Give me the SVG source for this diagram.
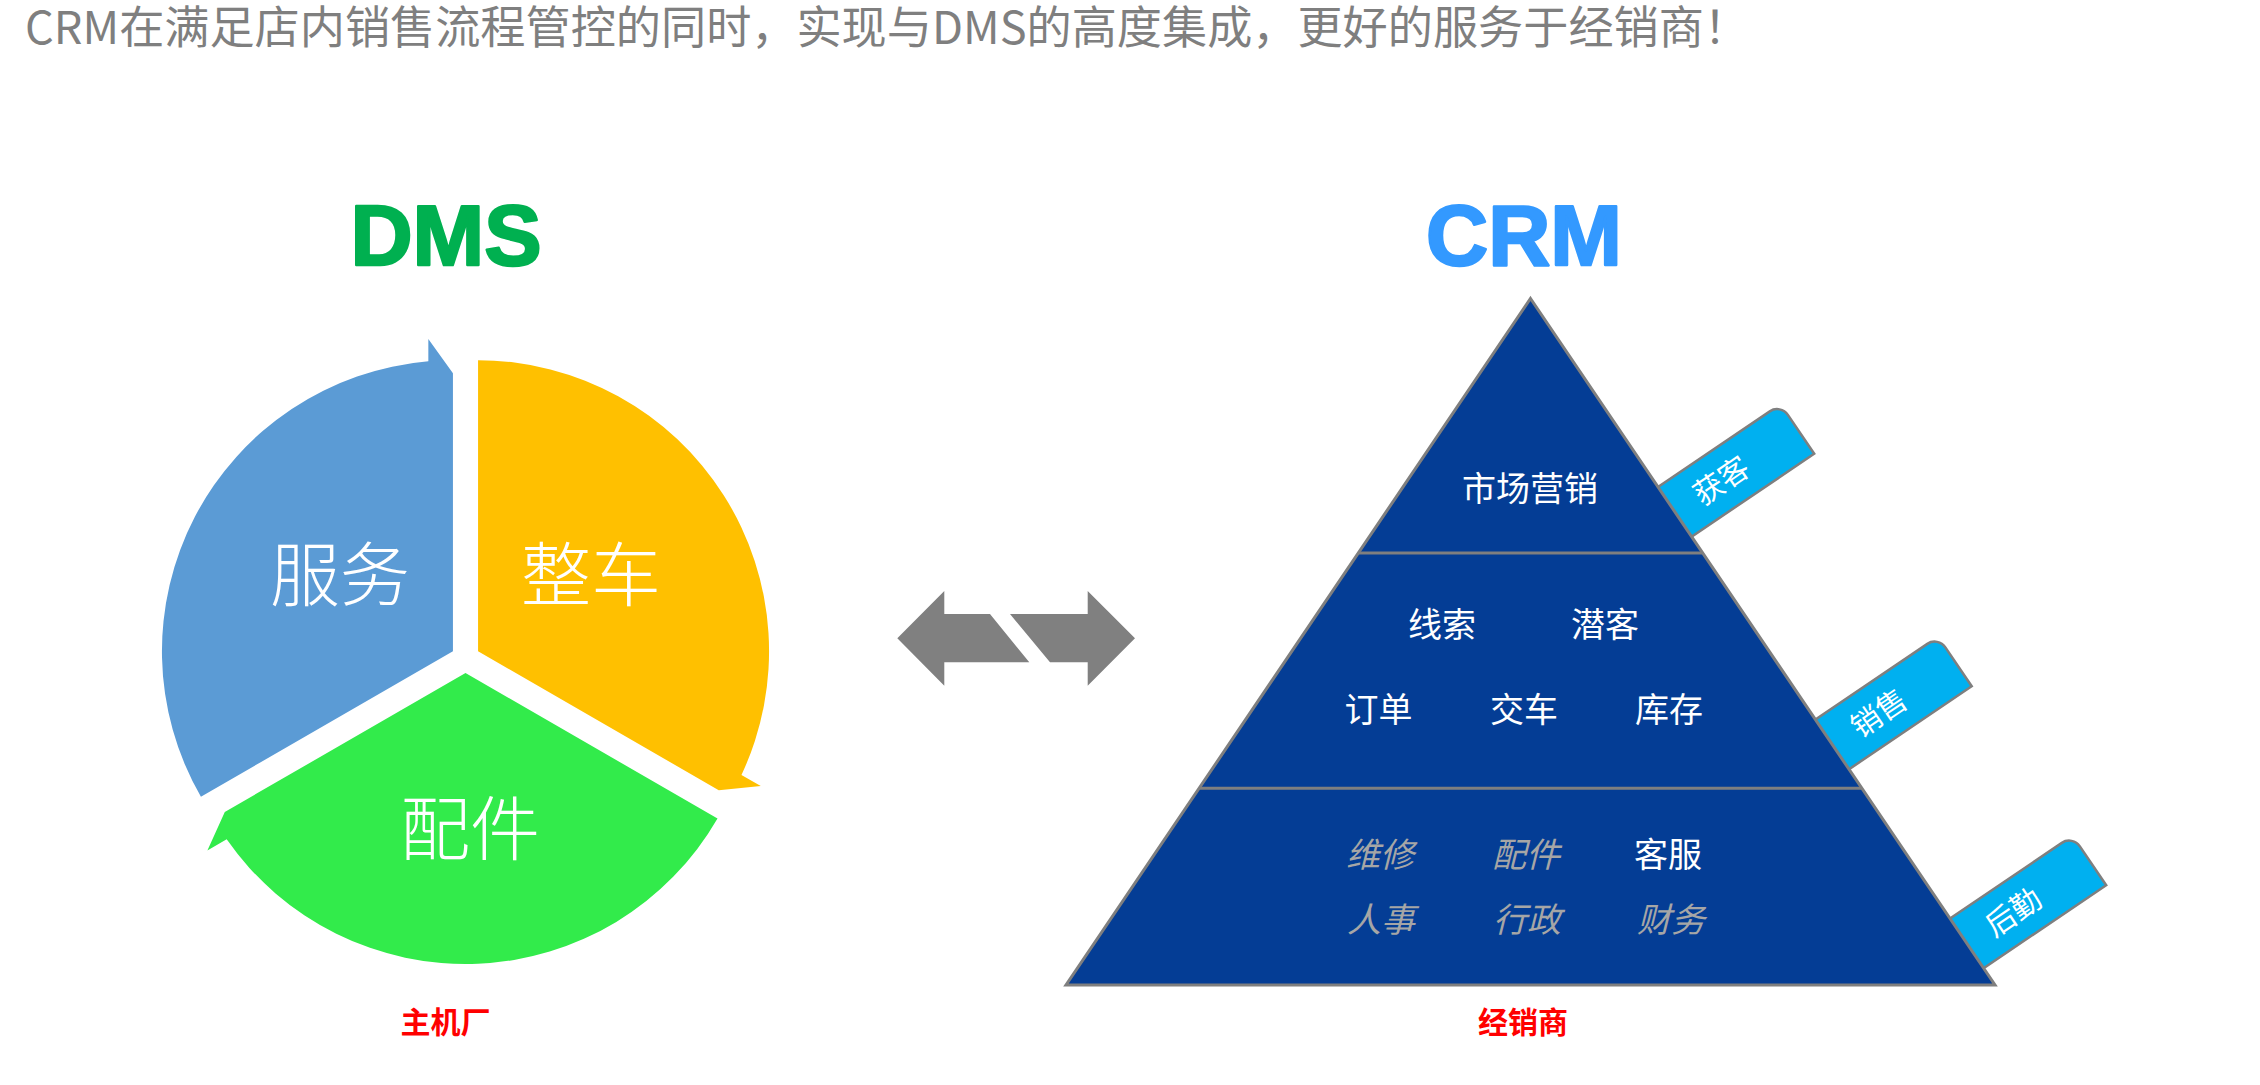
<svg xmlns="http://www.w3.org/2000/svg" width="2260" height="1085" viewBox="0 0 2260 1085">
<style>
  text { font-family: "Noto Sans CJK SC", "Noto Sans", sans-serif; }
  .title { font-size: 45px; fill: #7F7F7F; }
  .head { font-family: "Liberation Sans", Arial, sans-serif; font-weight: bold; font-size: 86px; text-anchor: middle; stroke-width: 2.5; stroke-linejoin: round; }
  .pie { font-size: 70px; fill: #FFFFFF; text-anchor: middle; font-weight: 300; }
  .tier { font-size: 34px; fill: #FFFFFF; text-anchor: middle; }
  .tier-i { font-size: 34px; fill: #A6A6A6; text-anchor: middle; font-style: italic; }
  .foot { font-size: 30px; fill: #FF0000; text-anchor: middle; font-weight: bold; }
  .tab text { font-size: 30px; fill: #FFFFFF; text-anchor: middle; }
  .sep { stroke: #7F7F7F; stroke-width: 3; }
</style>
<defs>
  <path id="segment" d="M452.94,651.25 L200.93,796.75 A291,291 0 0 1 428.34,361.29 L428.34,339 L452.94,373.3 Z"/>
  <path id="tabShape" d="M-25,0 H135 A13,13 0 0 1 148,13 V60 H-25 Z"/>
</defs>

<g id="title">
  <text class="title" x="25" y="44" textLength="1724" lengthAdjust="spacingAndGlyphs">CRM在满足店内销售流程管控的同时，实现与DMS的高度集成，更好的服务于经销商！</text>
</g>

<g id="dms-heading">
  <text class="head" x="446" y="265" fill="#00B050" stroke="#00B050">DMS</text>
</g>
<g id="crm-heading">
  <text class="head" x="1524" y="265" fill="#3399FF" stroke="#3399FF">CRM</text>
</g>

<g id="dms-cycle">
  <g id="seg-service">
    <use href="#segment" fill="#5B9BD5"/>
    <text class="pie" x="340" y="601">服务</text>
  </g>
  <g id="seg-vehicle">
    <use href="#segment" fill="#FFC000" transform="rotate(120 465.5 658.5)"/>
    <text class="pie" x="591" y="601">整车</text>
  </g>
  <g id="seg-parts">
    <use href="#segment" fill="#32EB4B" transform="rotate(240 465.5 658.5)"/>
    <text class="pie" x="470" y="855">配件</text>
  </g>
</g>

<g id="label-oem">
  <text class="foot" x="445.5" y="1033">主机厂</text>
</g>

<g id="connectors">
  <polygon points="897.3,638.3 944.3,591 944.3,614 990,614 1029.3,662.3 944.3,662.3 944.3,685.7" fill="#808080"/>
  <polygon points="1010,614 1087.7,614 1087.7,591 1135,638.3 1087.7,685.7 1087.7,662.3 1050,662.3" fill="#808080"/>
</g>

<g id="tabs">
  <g id="tab-acquire" class="tab" transform="translate(1658 487) rotate(-34.08)">
    <use href="#tabShape" fill="#00B0F0" stroke="#7F7F7F" stroke-width="2.5"/>
    <text x="56" y="41">获客</text>
  </g>
  <g id="tab-sales" class="tab" transform="translate(1815.5 719.5) rotate(-34.08)">
    <use href="#tabShape" fill="#00B0F0" stroke="#7F7F7F" stroke-width="2.5"/>
    <text x="56" y="41">销售</text>
  </g>
  <g id="tab-backoffice" class="tab" transform="translate(1950 918.5) rotate(-34.08)">
    <use href="#tabShape" fill="#00B0F0" stroke="#7F7F7F" stroke-width="2.5"/>
    <text x="56" y="41">后勤</text>
  </g>
</g>

<g id="crm-pyramid">
  <polygon points="1530.5,298.5 1995,985 1066,985" fill="#043D95" stroke="#7F7F7F" stroke-width="3"/>
  <line class="sep" x1="1358.3" y1="553" x2="1702.7" y2="553"/>
  <line class="sep" x1="1199.1" y1="788.3" x2="1861.9" y2="788.3"/>
</g>

<g id="tier-marketing">
  <text class="tier" x="1530" y="501">市场营销</text>
</g>
<g id="tier-sales">
  <text class="tier" x="1442" y="637">线索</text>
  <text class="tier" x="1605" y="637">潜客</text>
  <text class="tier" x="1378.5" y="722">订单</text>
  <text class="tier" x="1524" y="722">交车</text>
  <text class="tier" x="1669" y="722">库存</text>
</g>
<g id="tier-backoffice">
  <text class="tier-i" x="1380" y="867">维修</text>
  <text class="tier-i" x="1526" y="867">配件</text>
  <text class="tier" x="1668" y="867">客服</text>
  <text class="tier-i" x="1381" y="932">人事</text>
  <text class="tier-i" x="1527" y="932">行政</text>
  <text class="tier-i" x="1671" y="932">财务</text>
</g>

<g id="label-dealer">
  <text class="foot" x="1523" y="1033">经销商</text>
</g>
</svg>
